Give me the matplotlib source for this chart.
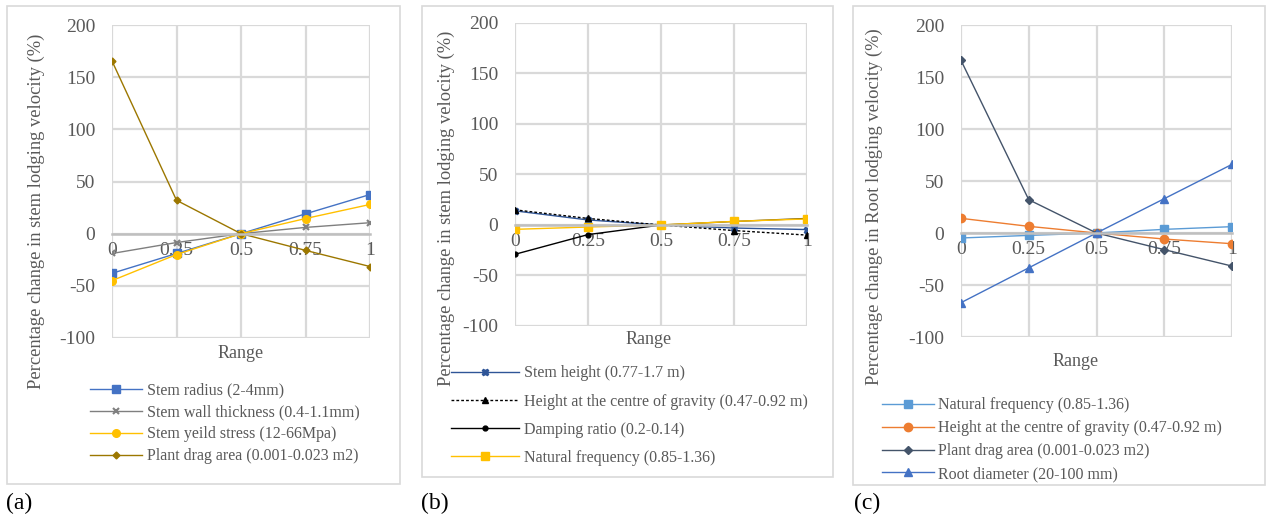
import matplotlib
matplotlib.use("Agg")
import matplotlib.pyplot as plt
from matplotlib.patches import Rectangle

W, H = 1266, 518
x_range = [0, 0.25, 0.5, 0.75, 1]
x_labels = ["0", "0.25", "0.5", "0.75", "1"]
y_ticks = [-100, -50, 0, 50, 100, 150, 200]

# (a) stem lodging velocity
a_stem_radius = [-38, -19, 0, 19, 37.5]
a_wall_thickness = [-19, -8.5, 0, 6, 10.5]
a_yield_stress = [-45, -20, 0, 14.5, 28]
a_drag_area = [165.5, 32, 0, -16, -31.5]
a_labels = ["Stem radius (2-4mm)", "Stem wall thickness (0.4-1.1mm)",
            "Stem yeild stress (12-66Mpa)", "Plant drag area (0.001-0.023 m2)"]

# (b) stem lodging velocity
b_stem_height = [14, 5, 0, -3, -4.5]
b_height_cg = [15, 6.5, 0, -5.5, -10]
b_damping = [-29, -9.5, 0, 3.5, 6.5]
b_nat_freq = [-4.3, -2, 0, 3.6, 6]
b_labels = ["Stem height (0.77-1.7 m)", "Height at the centre of gravity (0.47-0.92 m)",
            "Damping ratio (0.2-0.14)", "Natural frequency (0.85-1.36)"]

# (c) root lodging velocity
c_nat_freq = [-4.8, -2.3, 0, 3.5, 6.1]
c_height_cg = [14.1, 6.4, 0, -5.8, -10.3]
c_drag_area = [166, 32, 0, -16, -31.8]
c_root_diam = [-67, -33.5, 0, 33, 66]
c_labels = ["Natural frequency (0.85-1.36)", "Height at the centre of gravity (0.47-0.92 m)",
            "Plant drag area (0.001-0.023 m2)", "Root diameter (20-100 mm)"]

SERIF = ["Liberation Serif", "DejaVu Serif"]
plt.rcParams["font.family"] = SERIF
plt.rcParams["axes.unicode_minus"] = False
TXT = "#595959"
LEG_FS = 11.5
YL_FS = 13.3

fig = plt.figure(figsize=(W / 100, H / 100), dpi=100)


def fx(px):
    return px / W


def fy(py):
    return 1 - py / H


def make_axes(l, r, t, b):
    ax = fig.add_axes([fx(l), fy(b), fx(r - l), (b - t) / H])
    ax.set_xlim(0, 1)
    ax.set_ylim(-100, 200)
    ax.set_xticks(x_range)
    ax.set_xticklabels(x_labels)
    ax.set_yticks(y_ticks)
    for s in ["top", "right", "left"]:
        ax.spines[s].set_visible(False)
    ax.spines["bottom"].set_position(("data", 0))
    ax.spines["bottom"].set_color("#BFBFBF")
    ax.spines["bottom"].set_linewidth(1.8)
    ax.grid(True, color="#D9D9D9", linewidth=1.6)
    ax.set_axisbelow(True)
    ax.tick_params(length=0, labelsize=14, labelcolor=TXT)
    ax.tick_params(axis="x", pad=6)
    ax.tick_params(axis="y", pad=12)
    ax.patch.set_alpha(0)
    return ax


def frame(l, r, t, b):
    fig.patches.append(Rectangle((fx(l), fy(b)), fx(r - l), (b - t) / H,
                                 transform=fig.transFigure, fill=False,
                                 edgecolor="#D9D9D9", linewidth=1.2))


# ---------- (a)
frame(7, 400, 6, 484)
axa = make_axes(112, 370, 25, 338)
la = []
la += axa.plot(x_range, a_stem_radius, color="#4472C4", lw=1, marker="s", ms=5.5, label=a_labels[0])
la += axa.plot(x_range, a_wall_thickness, color="#7F7F7F", lw=1, marker="x", ms=4, mew=1.5,
               markeredgecolor="#808080", label=a_labels[1])
la += axa.plot(x_range, a_yield_stress, color="#FFC000", lw=1, marker="o", ms=5.5, label=a_labels[2])
la += axa.plot(x_range, a_drag_area, color="#9C7700", lw=1, marker="D", ms=3.5, label=a_labels[3])
fig.text(fx(36), fy(211), "Percentage change in stem lodging velocity (%)", rotation=90,
         ha="center", va="center", fontsize=YL_FS, color=TXT)
fig.text(fx(241), fy(354), "Range", ha="center", va="center", fontsize=13, color=TXT)
fig.legend(handles=la, loc="upper left", bbox_to_anchor=(fx(84), fy(376)), frameon=False,
           fontsize=LEG_FS, handlelength=3.25, handletextpad=0.3, labelspacing=0.37,
           borderaxespad=0, labelcolor=TXT)
fig.text(fx(6), fy(503), "(a)", ha="left", va="center", fontsize=17, color="black")

# ---------- (b)
frame(422, 833, 6, 477)
axb = make_axes(515, 807, 23, 326)
lb = []
lb += axb.plot(x_range, b_stem_height, color="#2F5597", lw=1, marker="X", ms=4.5, label=b_labels[0])
lb += axb.plot(x_range, b_height_cg, color="black", lw=1, ls=(0, (2, 1.5)), marker="^", ms=4.5, label=b_labels[1])
lb += axb.plot(x_range[:3], b_damping[:3], color="black", lw=1, marker="o", ms=3.5, label=b_labels[2])
axb.plot(x_range[2:], b_damping[2:], color="#5C4A10", lw=1, marker="o", ms=3.5)
lb += axb.plot(x_range, b_nat_freq, color="#FFC000", lw=1, marker="s", ms=5.5, label=b_labels[3])
fig.text(fx(446), fy(208), "Percentage change in stem lodging velocity (%)", rotation=90,
         ha="center", va="center", fontsize=YL_FS, color=TXT)
fig.text(fx(649), fy(340), "Range", ha="center", va="center", fontsize=13, color=TXT)
fig.legend(handles=lb, loc="upper left", bbox_to_anchor=(fx(445), fy(359)), frameon=False,
           fontsize=LEG_FS, handlelength=4.25, handletextpad=0.3, labelspacing=0.76,
           borderaxespad=0, labelcolor=TXT)
fig.text(fx(421), fy(503), "(b)", ha="left", va="center", fontsize=17, color="black")

# ---------- (c)
frame(853, 1265, 6, 485)
axc = make_axes(961, 1232, 25, 337)
lc = []
lc += axc.plot(x_range, c_nat_freq, color="#5B9BD5", lw=1, marker="s", ms=5.5, label=c_labels[0])
lc += axc.plot(x_range, c_height_cg, color="#ED7D31", lw=1, marker="o", ms=6, label=c_labels[1])
lc += axc.plot(x_range, c_drag_area, color="#44546A", lw=1, marker="D", ms=4, label=c_labels[2])
lc += axc.plot(x_range, c_root_diam, color="#4472C4", lw=1, marker="^", ms=6, label=c_labels[3])
fig.text(fx(874), fy(207), "Percentage change in Root lodging velocity (%)", rotation=90,
         ha="center", va="center", fontsize=YL_FS, color=TXT)
fig.text(fx(1076), fy(362), "Range", ha="center", va="center", fontsize=13, color=TXT)
fig.legend(handles=lc, loc="upper left", bbox_to_anchor=(fx(876), fy(391)), frameon=False,
           fontsize=LEG_FS, handlelength=3.2, handletextpad=0.3, labelspacing=0.43,
           borderaxespad=0, labelcolor=TXT)
fig.text(fx(854), fy(503), "(c)", ha="left", va="center", fontsize=17, color="black")

fig.savefig("out.png", dpi=100)
